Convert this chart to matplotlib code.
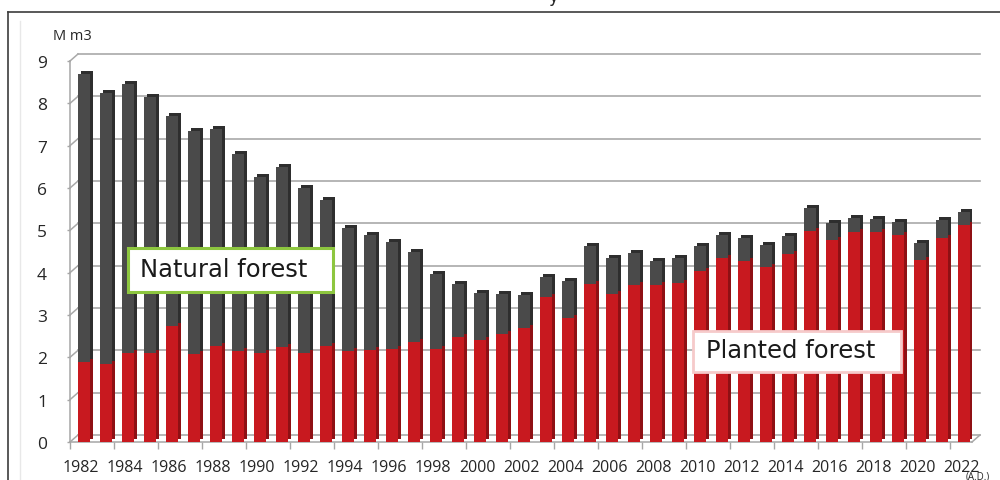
import matplotlib
matplotlib.use("Agg")
import matplotlib.pyplot as plt
import matplotlib.transforms as mtransforms
from matplotlib.patches import Rectangle
from matplotlib.lines import Line2D
import numpy as np

years = list(range(1982, 2023))
planted = [1.90, 1.85, 2.10, 2.10, 2.75, 2.07, 2.27, 2.15, 2.10, 2.25,
           2.10, 2.27, 2.15, 2.17, 2.20, 2.37, 2.20, 2.47, 2.42, 2.55,
           2.70, 3.43, 2.93, 3.73, 3.50, 3.72, 3.72, 3.75, 4.05, 4.35,
           4.28, 4.14, 4.44, 4.98, 4.77, 4.95, 4.95, 4.90, 4.30, 4.83, 5.12]
natural = [6.80, 6.40, 6.35, 6.05, 4.95, 5.28, 5.13, 4.65, 4.15, 4.25,
           3.90, 3.45, 2.90, 2.73, 2.52, 2.13, 1.77, 1.26, 1.10, 0.95,
           0.78, 0.47, 0.87, 0.90, 0.85, 0.75, 0.56, 0.60, 0.57, 0.55,
           0.55, 0.52, 0.43, 0.55, 0.41, 0.35, 0.32, 0.30, 0.40, 0.42, 0.31]
y_ticks = list(range(0, 10))
x_labels = [str(y) for y in years[::2]]

W, H = 1000, 481
fig = plt.figure(figsize=(W / 100, H / 100), dpi=100)
fig.patch.set_facecolor("white")

# axes front plane in pixels
L, R, T, B = 70, 972, 62, 443
ax = fig.add_axes([L / W, 1 - B / H, (R - L) / W, (B - T) / H])
ax.set_xlim(-0.5, len(years) - 0.5)
ax.set_ylim(0, 9)
ax.set_facecolor("none")
for s in ["top", "right"]:
    ax.spines[s].set_visible(False)
for s in ["left", "bottom"]:
    ax.spines[s].set_color("#a6a6a6")
    ax.spines[s].set_linewidth(1.1)

x = np.arange(len(years))
px_per_x = (R - L) / len(years)
px_per_y = (B - T) / 9.0

# back-wall gridlines (3D offset)
depth_dx, depth_dy = 8, 7
back = ax.transData + mtransforms.ScaledTranslation(depth_dx / 100, depth_dy / 100, fig.dpi_scale_trans)
for v in y_ticks:
    ax.plot([-0.5, len(years) - 0.5], [v, v], color="#a9a9a9", lw=1.2,
            transform=back, zorder=1, clip_on=False)
    ax.plot([-0.5, -0.5 + depth_dx / px_per_x], [v, v + depth_dy / px_per_y],
            color="#a9a9a9", lw=1.1, zorder=1, clip_on=False)
ax.plot([len(years) - 0.5, len(years) - 0.5 + depth_dx / px_per_x], [0, depth_dy / px_per_y],
        color="#a9a9a9", lw=1.1, zorder=1, clip_on=False)

# bars with simple 3D look
bw = 0.55
front = ax.transData + mtransforms.ScaledTranslation(3 / 100, 0, fig.dpi_scale_trans)
side = ax.transData + mtransforms.ScaledTranslation(6 / 100, 3 / 100, fig.dpi_scale_trans)
ax.bar(x, planted, width=bw, color="#8f1014", transform=side, zorder=2)
ax.bar(x, natural, bottom=planted, width=bw, color="#2e2e2e", transform=side, zorder=2)
ax.bar(x, planted, width=bw, color="#c8191f", transform=front, zorder=3)
ax.bar(x, natural, bottom=planted, width=bw, color="#4a4a4a", transform=front, zorder=3)

# ticks
ax.set_yticks(y_ticks)
ax.set_yticklabels([str(v) for v in y_ticks], fontsize=12.5, family="Open Sans", color="#262626")
ax.tick_params(axis="y", length=2.5, width=1, color="#a6a6a6", pad=14)
ax.set_xticks(x[::2])
ax.set_xticklabels(x_labels, fontsize=11.5, family="Open Sans", color="#262626")
ax.tick_params(axis="x", which="major", length=0, pad=12)
ax.set_xticks(np.arange(-0.5, len(years) - 0.5, 2), minor=True)
ax.tick_params(axis="x", which="minor", length=5, width=1, color="#a6a6a6")

# texts
fig.text(53 / W, 1 - 36 / H, "M m3", fontsize=10.5, family="Open Sans", color="#262626", va="center")
fig.text(966 / W, 1 - 472 / H, "(A.D.)", fontsize=7, family="Open Sans", color="#262626", va="top")
fig.text(548 / W, 1 - 2 / H, "y", fontsize=12, color="#262626", va="baseline")

# label boxes
fig.add_artist(Rectangle((128 / W, 1 - 293 / H), 205 / W, 44 / H, transform=fig.transFigure,
                         facecolor="white", edgecolor="#8dc63f", lw=2.2, zorder=5))
fig.text(140 / W, 1 - 270 / H, "Natural forest", fontsize=17.5, family="DejaVu Sans",
         color="#1a1a1a", va="center", ha="left", zorder=6)
fig.add_artist(Rectangle((693 / W, 1 - 373 / H), 208 / W, 41 / H, transform=fig.transFigure,
                         facecolor="white", edgecolor="#f6caca", lw=2.0, zorder=5))
fig.text(706 / W, 1 - 351 / H, "Planted forest", fontsize=17.5, family="DejaVu Sans",
         color="#1a1a1a", va="center", ha="left", zorder=6)

# frame lines
fig.add_artist(Line2D([8 / W, 1], [1 - 13 / H, 1 - 13 / H], transform=fig.transFigure,
                      color="#3c3c3c", lw=1.2))
fig.add_artist(Line2D([8 / W, 8 / W], [0, 1 - 13 / H], transform=fig.transFigure,
                      color="#3c3c3c", lw=1.2))
fig.add_artist(Line2D([20 / W, 20 / W], [0, 1 - 22 / H], transform=fig.transFigure,
                      color="#e8e8e8", lw=1.0))

fig.savefig("out.png", dpi=100)
